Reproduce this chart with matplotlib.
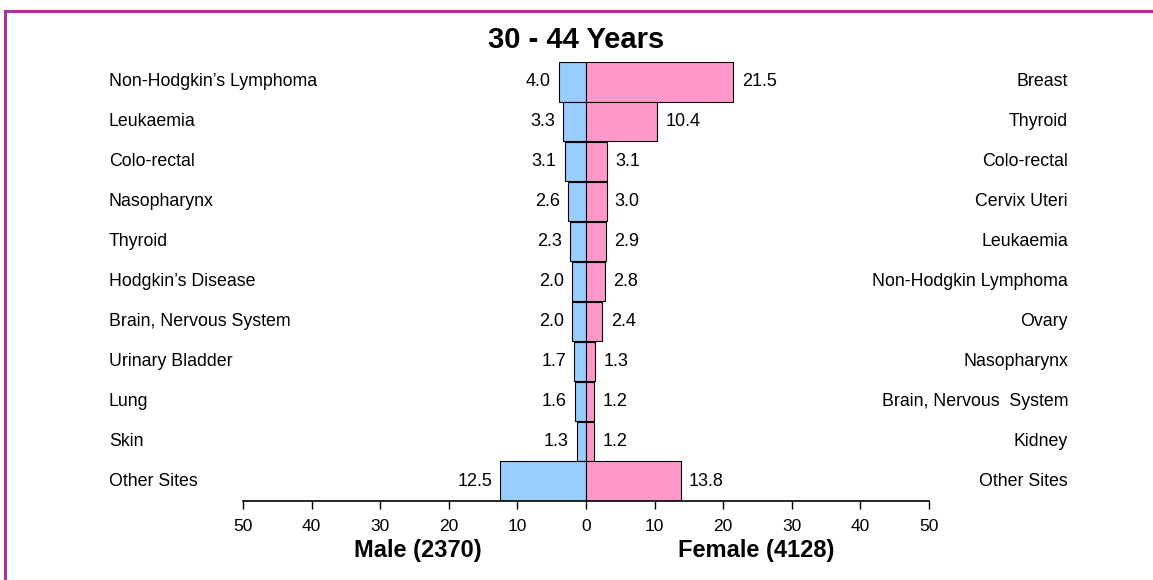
import matplotlib.pyplot as plt
from matplotlib.patches import Rectangle
from matplotlib import font_manager

# Data
male_sites = ["Non-Hodgkin\u2019s Lymphoma", "Leukaemia", "Colo-rectal", "Nasopharynx", "Thyroid",
              "Hodgkin\u2019s Disease", "Brain, Nervous System", "Urinary Bladder", "Lung", "Skin",
              "Other Sites"]
male_values = [4.0, 3.3, 3.1, 2.6, 2.3, 2.0, 2.0, 1.7, 1.6, 1.3, 12.5]
female_sites = ["Breast", "Thyroid", "Colo-rectal", "Cervix Uteri", "Leukaemia",
                "Non-Hodgkin Lymphoma", "Ovary", "Nasopharynx", "Brain, Nervous  System", "Kidney",
                "Other Sites"]
female_values = [21.5, 10.4, 3.1, 3.0, 2.9, 2.8, 2.4, 1.3, 1.2, 1.2, 13.8]
tick_vals = [-50, -40, -30, -20, -10, 0, 10, 20, 30, 40, 50]

plt.rcParams['font.family'] = ['Liberation Sans', 'DejaVu Sans']
names = {f.name for f in font_manager.fontManager.ttflist}
narrow = 'Liberation Sans Narrow' if 'Liberation Sans Narrow' in names else 'Liberation Sans'

W, H = 1153, 580
fig = plt.figure(figsize=(W / 100, H / 100), dpi=100)
ax = fig.add_axes([243 / W, 1 - 501 / H, (929 - 243) / W, (501 - 62) / H])

n = len(male_values)
y = list(range(n))
ax.barh(y, [-v for v in male_values], height=0.98, color="#99CCFF", edgecolor="black", linewidth=0.8)
ax.barh(y, female_values, height=0.98, color="#FF99CC", edgecolor="black", linewidth=0.8)

ax.set_xlim(-50, 50)
ax.set_ylim(n - 0.5, -0.5)

for i in range(n):
    ax.text(-male_values[i] - 1.2, i, f"{male_values[i]:.1f}", ha="right", va="center", fontsize=13)
    ax.text(female_values[i] + 1.2, i, f"{female_values[i]:.1f}", ha="left", va="center", fontsize=13)
    yc = 1 - (62 + (i + 0.5) * 439 / n) / H
    ax.text(109 / W, yc, male_sites[i], transform=fig.transFigure,
            ha="left", va="center", fontsize=12.8)
    ax.text(1068 / W, yc, female_sites[i], transform=fig.transFigure,
            ha="right", va="center", fontsize=12.8)

for s in ["left", "right", "top"]:
    ax.spines[s].set_visible(False)
ax.spines["bottom"].set_linewidth(1.2)
ax.set_yticks([])
ax.set_xticks(tick_vals)
ax.set_xticklabels([str(abs(t)) for t in tick_vals], fontsize=12.5, family=narrow)
ax.tick_params(axis="x", length=6, width=1, pad=7)

fig.text(576 / W, 1 - 40 / H, "30 - 44 Years", ha="center", va="center", fontsize=21, fontweight="bold")
fig.text(418 / W, 1 - 551 / H, "Male (2370)", ha="center", va="center", fontsize=17, fontweight="bold")
fig.text(756 / W, 1 - 551 / H, "Female (4128)", ha="center", va="center", fontsize=17, fontweight="bold")

fig.patches.append(Rectangle((5 / W, -0.1), 1.2, 1 - 11 / H + 0.1, transform=fig.transFigure,
                             fill=False, edgecolor="#B0309E", linewidth=2.2))

fig.savefig("out.png", dpi=100)
